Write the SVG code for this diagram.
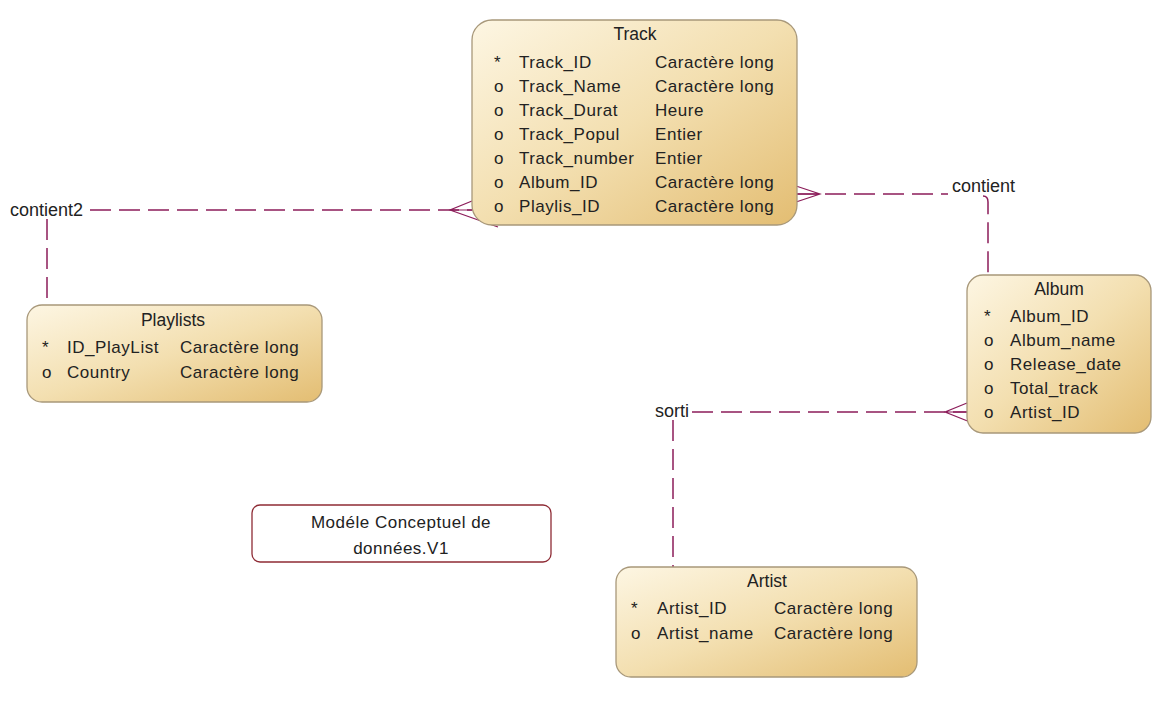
<svg xmlns="http://www.w3.org/2000/svg" width="1171" height="709" viewBox="0 0 1171 709">
<defs>
<linearGradient id="ent" x1="0" y1="0" x2="1" y2="1">
<stop offset="0" stop-color="#fdf6e3"/>
<stop offset="0.5" stop-color="#f3dfb0"/>
<stop offset="1" stop-color="#e3bd72"/>
</linearGradient>
</defs>
<style>
text{font-family:"Liberation Sans",Arial,sans-serif;fill:#222;}
.t{font-size:17.5px;text-anchor:middle;}
.r{font-size:17px;letter-spacing:0.55px;}
.lbl{font-size:18px;}
.nt{font-size:17px;letter-spacing:0.5px;text-anchor:middle;}
.box{fill:url(#ent);stroke:#a8987a;stroke-width:1.3;}
.note{fill:#fff;stroke:#8e2b35;stroke-width:1.3;}
.c{fill:none;stroke:#8c1d5a;stroke-width:1.5;stroke-dasharray:21 8;}
.s{fill:none;stroke:#8c1d5a;stroke-width:1.2;}
</style>
<rect width="1171" height="709" fill="#fff"/>
<g id="connectors">
<path class="c" d="M90,210 H472"/>
<path class="s" d="M472,201 L450,210 L498,227 M450,210 H480"/>
<path class="c" d="M47,219 V305"/>
<path class="c" d="M796,194 H948"/>
<path class="s" d="M796,186 L820,194 L796,202 M796,194 H820"/>
<path class="c" d="M983,196 Q988,196 988,202 V275"/>
<path class="c" d="M692,412 H967"/>
<path class="s" d="M967,403 L945,412 L970,422 M945,412 H967"/>
<path class="c" d="M673,420 V567"/>
</g>
<g id="label-contient2"><text class="lbl" x="10" y="216">contient2</text></g>
<g id="label-contient"><text class="lbl" x="952" y="192">contient</text></g>
<g id="label-sorti"><text class="lbl" x="655" y="417">sorti</text></g>
<g id="track">
<rect class="box" x="472" y="20" width="325" height="205" rx="20"/>
<text class="t" x="635" y="40">Track</text>
<text class="r" x="494" y="68">*</text><text class="r" x="519" y="68">Track_ID</text><text class="r" x="655" y="68">Caractère long</text>
<text class="r" x="494" y="92">o</text><text class="r" x="519" y="92">Track_Name</text><text class="r" x="655" y="92">Caractère long</text>
<text class="r" x="494" y="116">o</text><text class="r" x="519" y="116">Track_Durat</text><text class="r" x="655" y="116">Heure</text>
<text class="r" x="494" y="140">o</text><text class="r" x="519" y="140">Track_Popul</text><text class="r" x="655" y="140">Entier</text>
<text class="r" x="494" y="164">o</text><text class="r" x="519" y="164">Track_number</text><text class="r" x="655" y="164">Entier</text>
<text class="r" x="494" y="188">o</text><text class="r" x="519" y="188">Album_ID</text><text class="r" x="655" y="188">Caractère long</text>
<text class="r" x="494" y="212">o</text><text class="r" x="519" y="212">Playlis_ID</text><text class="r" x="655" y="212">Caractère long</text>
</g>
<g id="playlists">
<rect class="box" x="27" y="305" width="295" height="97" rx="15"/>
<text class="t" x="173" y="326">Playlists</text>
<text class="r" x="42" y="353">*</text><text class="r" x="67" y="353">ID_PlayList</text><text class="r" x="180" y="353">Caractère long</text>
<text class="r" x="42" y="378">o</text><text class="r" x="67" y="378">Country</text><text class="r" x="180" y="378">Caractère long</text>
</g>
<g id="album">
<rect class="box" x="967" y="275" width="184" height="158" rx="16"/>
<text class="t" x="1059" y="295">Album</text>
<text class="r" x="984" y="322">*</text><text class="r" x="1010" y="322">Album_ID</text>
<text class="r" x="984" y="346">o</text><text class="r" x="1010" y="346">Album_name</text>
<text class="r" x="984" y="370">o</text><text class="r" x="1010" y="370">Release_date</text>
<text class="r" x="984" y="394">o</text><text class="r" x="1010" y="394">Total_track</text>
<text class="r" x="984" y="418">o</text><text class="r" x="1010" y="418">Artist_ID</text>
</g>
<g id="artist">
<rect class="box" x="616" y="567" width="301" height="110" rx="15"/>
<text class="t" x="767" y="587">Artist</text>
<text class="r" x="631" y="614">*</text><text class="r" x="657" y="614">Artist_ID</text><text class="r" x="774" y="614">Caractère long</text>
<text class="r" x="631" y="639">o</text><text class="r" x="657" y="639">Artist_name</text><text class="r" x="774" y="639">Caractère long</text>
</g>
<g id="note">
<rect class="note" x="252" y="505" width="299" height="57" rx="8"/>
<text class="nt" x="401" y="528">Modéle Conceptuel de</text>
<text class="nt" x="401" y="554">données.V1</text>
</g>
</svg>
